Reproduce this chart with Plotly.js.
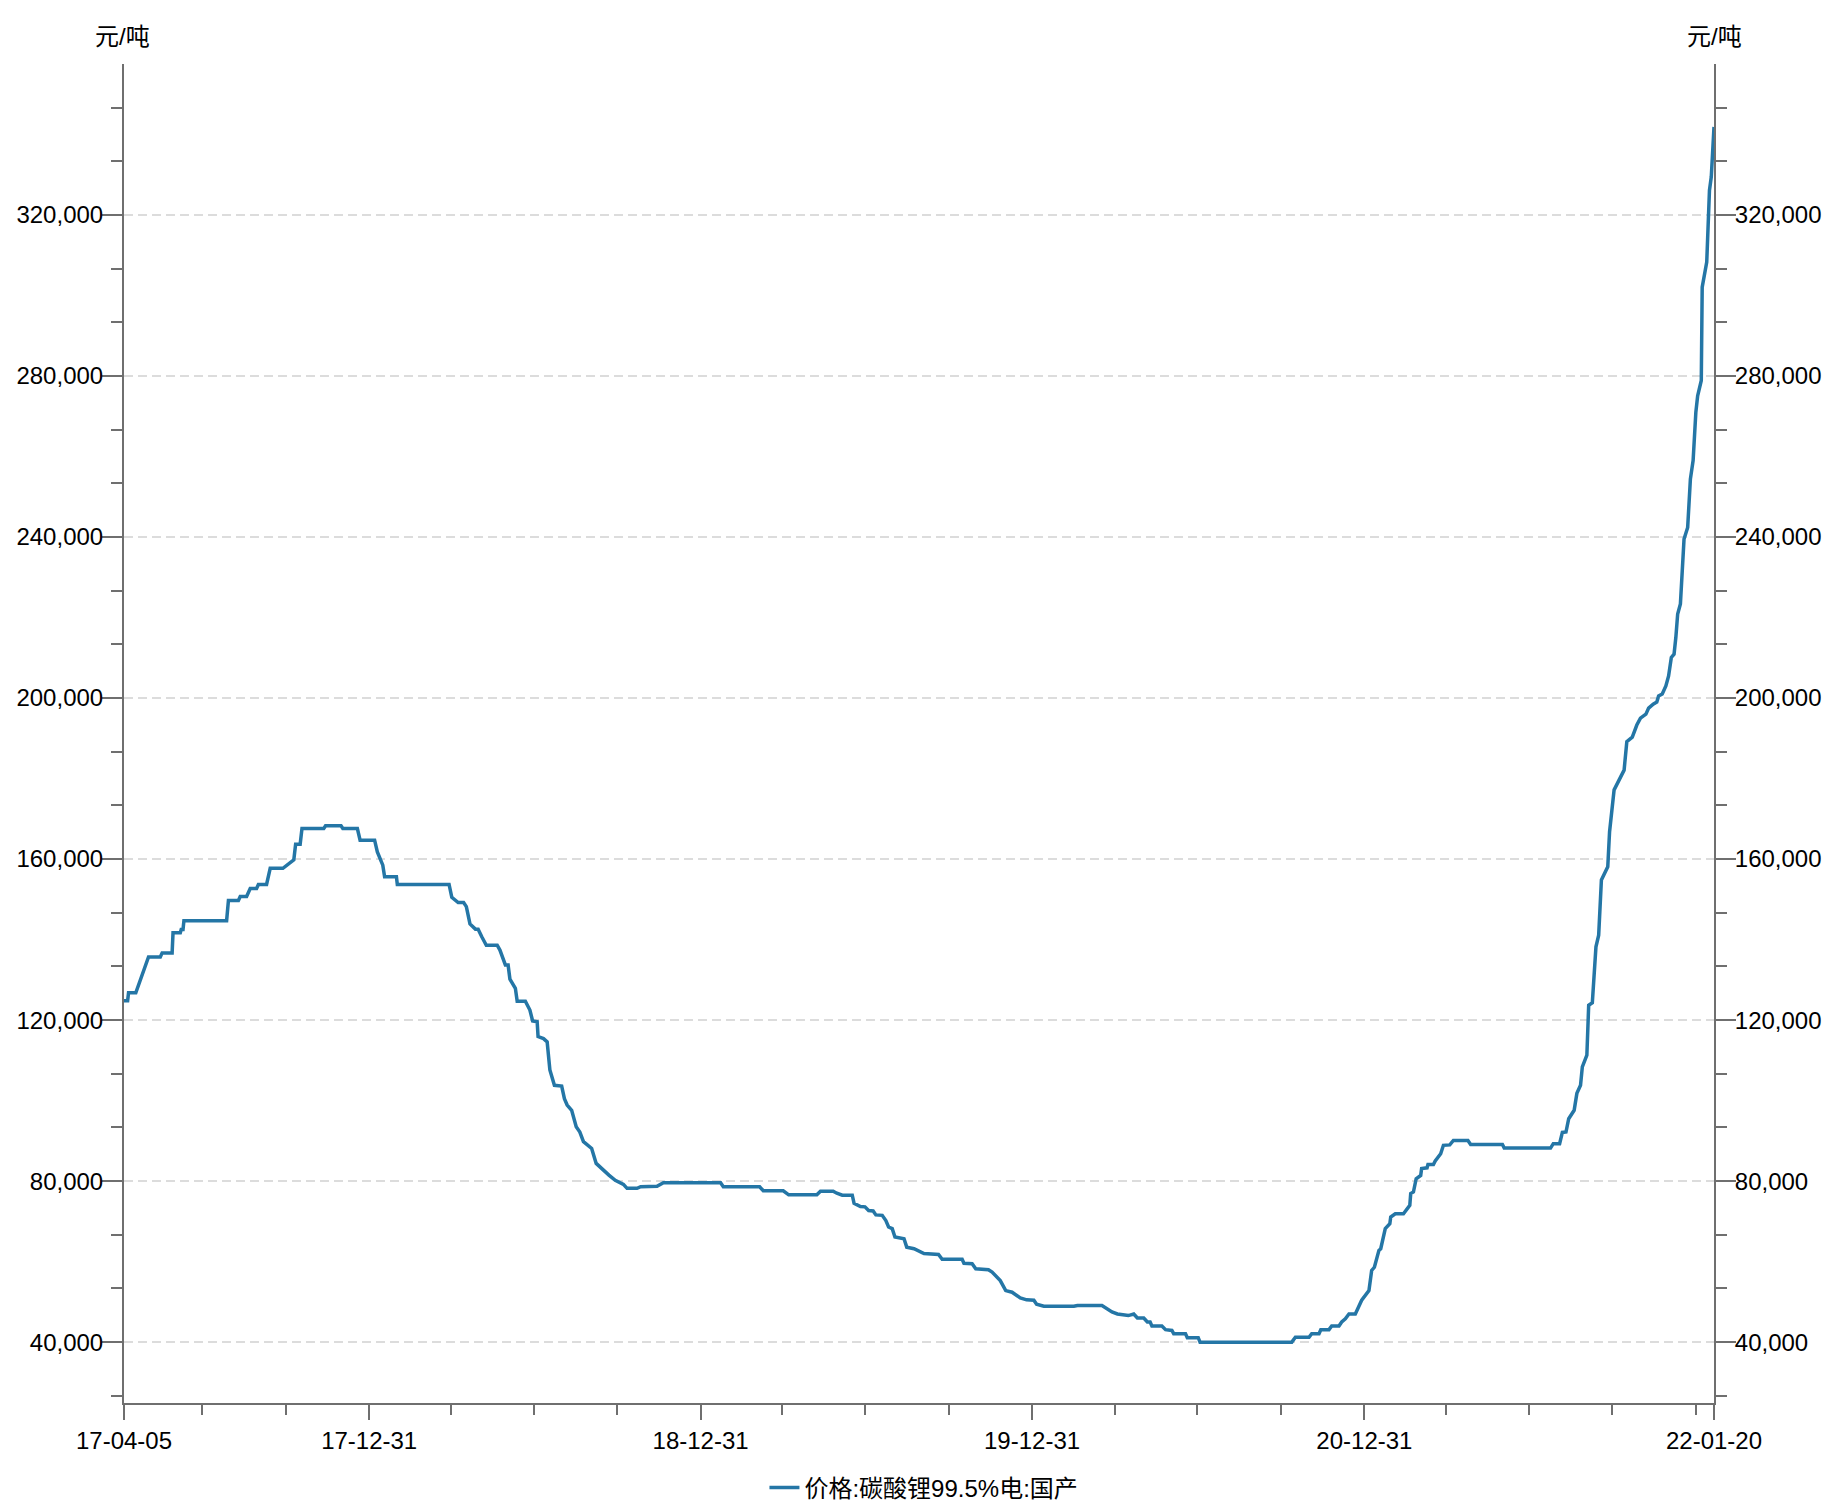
<!DOCTYPE html>
<html>
<head>
<meta charset="utf-8">
<script src="https://cdn.plot.ly/plotly-3.0.1.min.js"></script>
<style>
  html, body { margin: 0; padding: 0; background: #fff; }
  #chart { width: 1842px; height: 1508px; }
</style>
</head>
<body>
<div id="chart"></div>
<script>
// ---- Data ----
const seriesName = "价格:碳酸锂99.5%电:国产";
const unitLabel = "元/吨";

const dates = [
  "2017-04-05","2017-04-09","2017-04-10","2017-04-18","2017-05-02","2017-05-15","2017-05-17","2017-05-28","2017-05-29","2017-06-06",
  "2017-06-07","2017-06-09","2017-06-10","2017-07-27","2017-07-29","2017-08-09","2017-08-11","2017-08-18","2017-08-22","2017-08-29",
  "2017-08-31","2017-09-09","2017-09-13","2017-09-27","2017-10-09","2017-10-11","2017-10-16","2017-10-18","2017-11-11","2017-11-13",
  "2017-11-30","2017-12-02","2017-12-18","2017-12-21","2018-01-06","2018-01-09","2018-01-15","2018-01-17","2018-01-30","2018-01-31",
  "2018-03-29","2018-04-01","2018-04-08","2018-04-14","2018-04-17","2018-04-21","2018-04-27","2018-04-30","2018-05-04","2018-05-09",
  "2018-05-21","2018-05-24","2018-05-30","2018-06-02","2018-06-04","2018-06-10","2018-06-12","2018-06-21","2018-06-26","2018-06-29",
  "2018-07-04","2018-07-05","2018-07-11","2018-07-15","2018-07-18","2018-07-23","2018-07-31","2018-08-03","2018-08-06","2018-08-11",
  "2018-08-16","2018-08-20","2018-08-24","2018-09-02","2018-09-07","2018-09-13","2018-09-21","2018-09-28","2018-10-07","2018-10-11",
  "2018-10-22","2018-10-26","2018-11-13","2018-11-20","2019-01-22","2019-01-25","2019-03-06","2019-03-10","2019-04-01","2019-04-07",
  "2019-05-08","2019-05-12","2019-05-26","2019-05-30","2019-06-05","2019-06-16","2019-06-18","2019-06-25","2019-06-30","2019-07-04",
  "2019-07-09","2019-07-12","2019-07-19","2019-07-23","2019-07-26","2019-07-30","2019-08-02","2019-08-12","2019-08-15","2019-08-23",
  "2019-08-28","2019-09-03","2019-09-19","2019-09-23","2019-10-15","2019-10-17","2019-10-26","2019-10-30","2019-11-13","2019-11-17",
  "2019-11-26","2019-12-02","2019-12-09","2019-12-18","2019-12-25","2020-01-02","2020-01-05","2020-01-13","2020-02-15","2020-02-19",
  "2020-03-17","2020-03-21","2020-03-28","2020-04-03","2020-04-15","2020-04-21","2020-04-25","2020-05-02","2020-05-06","2020-05-09",
  "2020-05-11","2020-05-22","2020-05-26","2020-06-02","2020-06-04","2020-06-17","2020-06-19","2020-07-01","2020-07-03","2020-10-12",
  "2020-10-16","2020-10-31","2020-11-03","2020-11-11","2020-11-13","2020-11-22","2020-11-25","2020-12-03","2020-12-06","2020-12-10",
  "2020-12-14","2020-12-21","2020-12-24","2020-12-28","2021-01-05","2021-01-08","2021-01-11","2021-01-16","2021-01-18","2021-01-23",
  "2021-01-28","2021-01-29","2021-02-03","2021-02-12","2021-02-19","2021-02-20","2021-02-23","2021-02-26","2021-03-03","2021-03-04",
  "2021-03-10","2021-03-11","2021-03-17","2021-03-19","2021-03-25","2021-03-28","2021-04-04","2021-04-08","2021-04-24","2021-04-27",
  "2021-06-01","2021-06-03","2021-07-24","2021-07-27","2021-08-03","2021-08-06","2021-08-10","2021-08-13","2021-08-19","2021-08-22",
  "2021-08-26","2021-08-28","2021-09-02","2021-09-04","2021-09-08","2021-09-12","2021-09-15","2021-09-18","2021-09-25","2021-09-27",
  "2021-10-02","2021-10-09","2021-10-13","2021-10-16","2021-10-22","2021-10-27","2021-10-31","2021-11-06","2021-11-09","2021-11-14",
  "2021-11-18","2021-11-20","2021-11-24","2021-11-28","2021-12-01","2021-12-04","2021-12-07","2021-12-09","2021-12-11","2021-12-14",
  "2021-12-16","2021-12-18","2021-12-22","2021-12-25","2021-12-28","2021-12-31","2022-01-02","2022-01-05","2022-01-06","2022-01-07",
  "2022-01-12","2022-01-15","2022-01-17","2022-01-20"
];

const prices = [
  124800,124800,126800,126800,135700,135700,136700,136700,141700,141700,
  142500,142500,144700,144700,149700,149700,150700,150700,152700,152700,
  153700,153700,157700,157700,159800,163700,163700,167600,167600,168300,
  168300,167600,167600,164700,164700,161800,158500,155600,155600,153700,
  153700,150500,149200,149200,148200,143900,142600,142600,140700,138600,
  138600,137400,133700,133700,130200,127900,124700,124700,122500,119800,
  119600,115900,115400,114600,107600,103800,103600,100500,98900,97600,
  93500,92200,89800,88100,84400,83100,81500,80200,79200,78200,
  78200,78600,78700,79600,79600,78600,78600,77600,77600,76600,
  76600,77500,77500,77000,76500,76500,74500,73700,73600,72700,
  72600,71600,71500,70200,68600,68200,66100,65700,63600,63200,
  62600,62000,61800,60600,60600,59600,59500,58200,58000,57400,
  55300,52800,52400,51000,50500,50400,49400,48900,48900,49100,
  49100,48500,47500,47000,46600,47000,46000,46000,45000,45000,
  44000,44000,43100,42900,42100,42100,41100,41100,40000,40000,
  41200,41200,42100,42100,43100,43100,44000,44000,45000,45800,
  47000,47000,48700,50400,52800,57800,58600,62800,63200,68200,
  69400,71100,71900,71900,74000,76900,77300,80600,81400,83100,
  83300,84100,84100,85000,86800,88900,89000,90100,90100,89100,
  89100,88200,88200,89300,89300,92100,92200,95500,97600,101800,
  103800,108400,111300,123700,124300,138200,141100,154800,158100,166800,
  177200,180100,182100,189200,190300,193300,195000,196000,197500,198500,
  199000,200500,201000,203000,205500,210100,210900,215100,220900,223400,
  232500,239500,242400,254400,259000,271000,275100,278000,278900,302100,
  308300,326100,329500,341900
];

// Axis ticks
const xTickVals = ["2017-04-05","2017-12-31","2018-12-31","2019-12-31","2020-12-31","2022-01-20"];
const xTickText = ["17-04-05","17-12-31","18-12-31","19-12-31","20-12-31","22-01-20"];
const xMinorTickVals = [
  "2017-06-30","2017-09-30","2018-03-31","2018-06-30","2018-09-30",
  "2019-03-31","2019-06-30","2019-09-30","2020-03-31","2020-06-30","2020-09-30",
  "2021-03-31","2021-06-30","2021-09-30","2021-12-31"
];
const yTickVals = [40000, 80000, 120000, 160000, 200000, 240000, 280000, 320000];
const yRange = [24880, 357520];
const xRange = ["2017-04-05", "2022-01-20"];

// ---- Styling ----
const FONT = "Liberation Sans, Arial, Noto Sans CJK SC, sans-serif";
const FS = 24;
const lineColor = "rgb(36,118,166)";
const axisColor = "#6f6f6f";

const traces = [
  {
    x: dates, y: prices, type: "scatter", mode: "lines",
    name: seriesName,
    line: { color: lineColor, width: 3.5 },
    xaxis: "x", yaxis: "y",
    hoverinfo: "skip"
  },
  {
    x: dates, y: prices, type: "scatter", mode: "lines",
    line: { color: "rgba(0,0,0,0)", width: 0 },
    xaxis: "x", yaxis: "y2",
    showlegend: false, hoverinfo: "skip"
  }
];

const yCommon = {
  range: yRange,
  tickmode: "array",
  tickvals: yTickVals,
  tickformat: ",d",
  ticks: "outside",
  ticklen: 20,
  tickwidth: 2,
  tickcolor: axisColor,
  ticklabelstandoff: -6,
  showline: true,
  linecolor: axisColor,
  linewidth: 2,
  zeroline: false,
  automargin: false,
  tickfont: { family: FONT, size: FS, color: "#000" },
  minor: { dtick: 40000 / 3, tick0: 0, ticks: "outside", ticklen: 11, tickwidth: 2, tickcolor: axisColor, showgrid: false }
};

const layout = {
  width: 1842,
  height: 1508,
  margin: { l: 124, r: 128, t: 64, b: 105 },
  paper_bgcolor: "#ffffff",
  plot_bgcolor: "#ffffff",
  font: { family: FONT, size: FS, color: "#000" },
  showlegend: true,
  legend: {
    orientation: "h",
    xref: "container", yref: "container",
    x: 0.5016, xanchor: "center",
    y: 0.0133, yanchor: "middle",
    font: { family: FONT, size: FS, color: "#000" },
    bgcolor: "rgba(0,0,0,0)"
  },
  xaxis: {
    type: "date",
    range: xRange,
    tickmode: "array",
    tickvals: xTickVals,
    ticktext: xTickText,
    ticks: "outside",
    ticklen: 15,
    tickwidth: 2,
    tickcolor: axisColor,
    showline: true,
    linecolor: axisColor,
    linewidth: 2,
    showgrid: false,
    zeroline: false,
    automargin: false,
    tickfont: { family: FONT, size: FS, color: "#000" },
    minor: { tickmode: "array", tickvals: xMinorTickVals, ticks: "outside", ticklen: 10, tickwidth: 2, tickcolor: axisColor, showgrid: false }
  },
  yaxis: Object.assign({}, yCommon, {
    side: "left",
    showgrid: true,
    gridcolor: "#dcdcdc",
    gridwidth: 1.5,
    griddash: "9px,5px"
  }),
  yaxis2: Object.assign({}, yCommon, {
    side: "right",
    overlaying: "y",
    anchor: "x",
    showgrid: false
  }),
  annotations: [
    { text: unitLabel, xref: "paper", yref: "paper", x: -0.001, y: 1.0202, xanchor: "center", yanchor: "middle",
      showarrow: false, font: { family: FONT, size: FS, color: "#000" } },
    { text: unitLabel, xref: "paper", yref: "paper", x: 1.0006, y: 1.0202, xanchor: "center", yanchor: "middle",
      showarrow: false, font: { family: FONT, size: FS, color: "#000" } }
  ]
};

Plotly.newPlot("chart", traces, layout, { staticPlot: true, displayModeBar: false });
</script>
</body>
</html>
